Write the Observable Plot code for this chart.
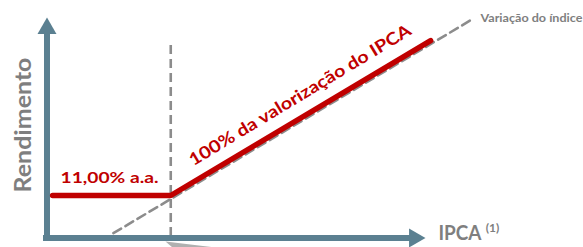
<!DOCTYPE html>
<html><head><meta charset="utf-8">
<script src="https://cdn.jsdelivr.net/npm/d3@7"></script>
<script src="https://cdn.jsdelivr.net/npm/@observablehq/plot@0.6"></script>
<style>html,body{margin:0;padding:0;background:#fff;overflow:hidden}</style>
</head><body><div id="chart"></div>
<script>
// Schematic data (IPCA vs rendimento)
const rendimentoLine = [ {ipca: 0.5, r: 11}, {ipca: 11, r: 11}, {ipca: 34.1, r: 34.1} ];
const indiceLine = [ {ipca: 5.9, r: 5.9}, {ipca: 37.6, r: 37.6} ];
const strikeLine = [ {ipca: 11, r1: 4.88, r2: 33.82} ];
const xAxisShaft = [ {ipca1: -0.31, ipca2: 32.31, r: 4.662} ];
const yAxisShaft = [ {ipca: 0, r1: 4.29, r2: 35.16} ];
const xAxisHead = [ {ipca: 32.67, r: 4.662} ];
const yAxisHead = [ {ipca: 0, r: 35.91} ];
const pointer = [ {ipca: 10.53, r: 4.14}, {ipca: 14.98, r: 3.245}, {ipca: 11.16, r: 3.245} ];
const labelFixed = [ {text: "11,00% a.a.", ipca: 5.556, r: 12.79} ];
const labelVar = [ {text: "100% da valorização do IPCA", ipca: 22.76, r: 25.24} ];
const labelIndice = [ {text: "Variação do índice", ipca: 38.53, r: 36.80} ];
const labelYTitle = [ {text: "Rendimento", ipca: -1.378, r: 21.51} ];
const labelXTitle = [ {text: "IPCA", ipca: 34.8, r: 4.29} ];
const labelXNote = [ {text: "(1)", ipca: 39.0, r: 5.63} ];
const textLengths = [ ["11,00% a.a.", 98], ["100% da valorização do IPCA", 256], ["Variação do índice", 102], ["Rendimento", 135], ["IPCA", 43] ];

const RED = "#c00000", GREY = "#7f7f7f", DASH = "#8c8c8c", AXIS = "#5b8091";
const font = "Lato";

const chart = Plot.plot({
  width: 583, height: 247,
  marginTop: 0, marginRight: 0, marginBottom: 0, marginLeft: 0,
  x: {domain: [-4.133, 47.689], axis: null},
  y: {domain: [3.245, 40.08], axis: null},
  style: {fontFamily: font, background: "#fff"},
  marks: [
    Plot.line(pointer, {x: "ipca", y: "r", fill: "#b0b0b0", stroke: "none"}),
    Plot.line(indiceLine, {x: "ipca", y: "r", stroke: DASH, strokeWidth: 2.6, strokeDasharray: "9,5", dy: 3.5}),
    Plot.ruleX(strikeLine, {x: "ipca", y1: "r1", y2: "r2", stroke: DASH, strokeWidth: 2.6, strokeDasharray: "9,5"}),
    Plot.ruleY(xAxisShaft, {y: "r", x1: "ipca1", x2: "ipca2", stroke: AXIS, strokeWidth: 6}),
    Plot.ruleX(yAxisShaft, {x: "ipca", y1: "r1", y2: "r2", stroke: AXIS, strokeWidth: 6}),
    Plot.dot(yAxisHead, {x: "ipca", y: "r", symbol: "triangle", r: 7.05, fill: AXIS, stroke: "none"}),
    Plot.dot(xAxisHead, {x: "ipca", y: "r", symbol: "triangle", r: 7.05, fill: AXIS, stroke: "none", rotate: 90}),
    Plot.line(rendimentoLine, {x: "ipca", y: "r", stroke: RED, strokeWidth: 5.5, strokeLinecap: "round", strokeLinejoin: "round"}),
    Plot.text(labelFixed, {x: "ipca", y: "r", text: "text", fill: RED, fontSize: 16, fontWeight: "bold", lineAnchor: "bottom", textAnchor: "middle"}),
    Plot.text(labelVar, {x: "ipca", y: "r", text: "text", fill: RED, fontSize: 17, fontWeight: "bold", lineAnchor: "bottom", textAnchor: "middle", rotate: -31.2}),
    Plot.text(labelIndice, {x: "ipca", y: "r", text: "text", fill: GREY, fontSize: 11.5, fontWeight: "bold", lineAnchor: "bottom", textAnchor: "start"}),
    Plot.text(labelYTitle, {x: "ipca", y: "r", text: "text", fill: GREY, fontSize: 23, fontWeight: "bold", lineAnchor: "bottom", textAnchor: "middle", rotate: -90}),
    Plot.text(labelXTitle, {x: "ipca", y: "r", text: "text", fill: GREY, fontSize: 21, fontWeight: "bold", lineAnchor: "bottom", textAnchor: "start"}),
    Plot.text(labelXNote, {x: "ipca", y: "r", text: "text", fill: GREY, fontSize: 12, fontWeight: "bold", lineAnchor: "bottom", textAnchor: "start"})
  ]
});
const lenMap = new Map(textLengths);
chart.querySelectorAll("text").forEach(t => {
  const L = lenMap.get(t.textContent);
  if (L) { t.setAttribute("textLength", L); t.setAttribute("lengthAdjust", "spacingAndGlyphs"); }
});
document.getElementById("chart").appendChild(chart);
</script>
</body></html>
